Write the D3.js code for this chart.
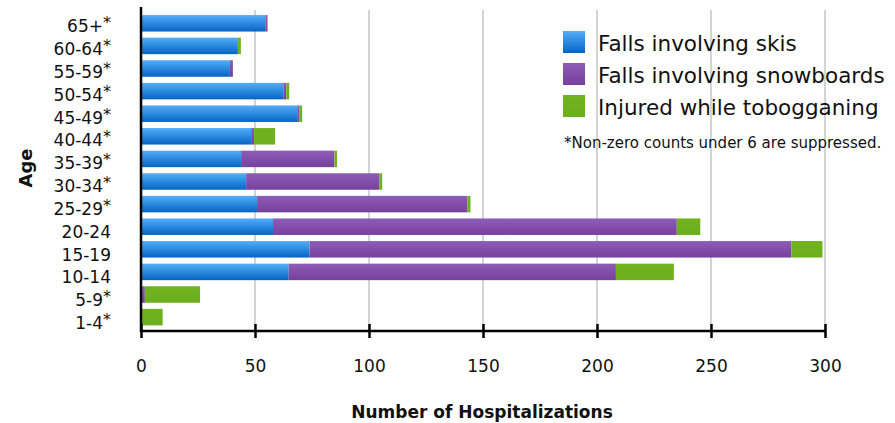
<!DOCTYPE html>
<html>
<head>
<meta charset="utf-8">
<script src="https://cdn.jsdelivr.net/npm/d3@7"></script>
<style>
  body { margin: 0; background: #fff; }
  svg { display: block; font-family: "DejaVu Sans", sans-serif; }
</style>
</head>
<body>
<svg id="chart" width="895" height="423"></svg>
<script>
// age groups, top to bottom; starred ones have suppressed small counts
const ages = ["65+", "60-64", "55-59", "50-54", "45-49", "40-44", "35-39", "30-34", "25-29", "20-24", "15-19", "10-14", "5-9", "1-4"]
const starred = ["65+", "60-64", "55-59", "50-54", "45-49", "40-44", "35-39", "30-34", "25-29", "5-9", "1-4"]

const skis = [54.5, 42.5, 39, 62.4, 68.5, 48.3, 43.9, 46.1, 50.9, 57.9, 73.9, 64.8, 0, 0]
const snowboards = [1, 0, 1.3, 1.3, 0.9, 1.3, 40.9, 58.4, 92.3, 177.1, 211.4, 143.5, 1.7, 0]
const toboggans = [0, 1.3, 0, 1.3, 1.3, 9.2, 1.2, 1.3, 1.3, 10.3, 13.6, 25.4, 24.2, 9.5]

const seriesNames = ["Falls involving skis", "Falls involving snowboards", "Injured while tobogganing"]
const xTicks = [0, 50, 100, 150, 200, 250, 300]
const note = "*Non-zero counts under 6 are suppressed."

const svg = d3.select("#chart")

const rows = ages.map((a, i) => ({age: a, skis: skis[i], snowboards: snowboards[i], toboggans: toboggans[i]}))
const keys = ["skis", "snowboards", "toboggans"]
const stacked = d3.stack().keys(keys)(rows)

const x = d3.scaleLinear([0, 300], [141, 825])
const y = d3.scaleBand(ages, [12, 328.4]).paddingInner(0.27).paddingOuter(0.135)
const yLabel = d3.scalePoint(ages, [26.2, 323])

// gradients
const defs = svg.append("defs")
const grad = (id, top, bottom) => {
    const g = defs.append("linearGradient").attr("id", id)
        .attr("x1", 0).attr("y1", 0).attr("x2", 0).attr("y2", 1)
    g.append("stop").attr("offset", "0%").attr("stop-color", top)
    g.append("stop").attr("offset", "100%").attr("stop-color", bottom)
}
grad("gBlue", "#52aef8", "#0764c4")
grad("gPurple", "#8d5db7", "#77409e")
grad("gGreen", "#71b21f", "#6caf1c")
const fills = ["url(#gBlue)", "url(#gPurple)", "url(#gGreen)"]

// grid
svg.append("g")
    .attr("stroke", "#d4d4d4")
    .attr("stroke-width", 2)
    .selectAll("line")
    .data(xTicks.slice(1))
    .join("line")
    .attr("x1", d => x(d)).attr("x2", d => x(d))
    .attr("y1", 10).attr("y2", 331)

// bars
svg.append("g")
    .selectAll("g")
    .data(stacked)
    .join("g")
    .attr("fill", (d, i) => fills[i])
    .selectAll("rect")
    .data(d => d)
    .join("rect")
    .attr("x", d => x(d[0]))
    .attr("y", d => y(d.data.age))
    .attr("width", d => x(d[1]) - x(d[0]))
    .attr("height", y.bandwidth())

// x axis
const xAxis = d3.axisBottom(x).tickValues(xTicks).tickSize(0).tickPadding(0)
const xg = svg.append("g")
    .attr("transform", "translate(0,331)")
    .call(xAxis)
xg.attr("font-family", null).attr("font-size", null)
xg.select(".domain").attr("stroke", "#000").attr("stroke-width", 2.5)
    .attr("d", `M${x(0)},0H${x(300)}`)
xg.selectAll(".tick line").attr("y1", -7).attr("y2", 7).attr("stroke", "#000").attr("stroke-width", 2.5)
xg.selectAll(".tick text").attr("y", 41).attr("dy", 0).attr("fill", "#111")
    .style("font-size", "17px")

// y axis line
svg.append("line")
    .attr("x1", x(0)).attr("x2", x(0))
    .attr("y1", 7).attr("y2", 332)
    .attr("stroke", "#000").attr("stroke-width", 2.5)

// y labels
const labels = svg.append("g")
    .attr("text-anchor", "end")
    .style("font-size", "17px")
    .attr("fill", "#111")
    .selectAll("text")
    .data(ages)
    .join("text")
    .attr("x", 111)
    .attr("y", d => yLabel(d) + 6)
labels.append("tspan").text(d => d)
labels.filter(d => starred.includes(d))
    .append("tspan").attr("dy", -4).style("font-size", "16px").text("*")

// axis titles
svg.append("text")
    .attr("x", 482).attr("y", 418)
    .attr("text-anchor", "middle")
    .style("font-size", "17px").style("font-weight", "bold")
    .attr("fill", "#111")
    .text("Number of Hospitalizations")

svg.append("text")
    .attr("transform", "translate(32,168) rotate(-90)")
    .attr("text-anchor", "middle")
    .style("font-size", "18px").style("font-weight", "bold")
    .attr("fill", "#111")
    .text("Age")

// legend
const legend = svg.append("g")
    .selectAll("g")
    .data(seriesNames)
    .join("g")
    .attr("transform", (d, i) => `translate(563,${31 + i * 32})`)
legend.append("rect")
    .attr("width", 22).attr("height", 22)
    .attr("fill", (d, i) => fills[i])
legend.append("text")
    .attr("x", 35).attr("y", 20)
    .style("font-size", "21.5px")
    .attr("fill", "#111")
    .text(d => d)

svg.append("text")
    .attr("x", 564).attr("y", 148)
    .style("font-size", "15px")
    .attr("fill", "#111")
    .text(note)
</script>
</body>
</html>
